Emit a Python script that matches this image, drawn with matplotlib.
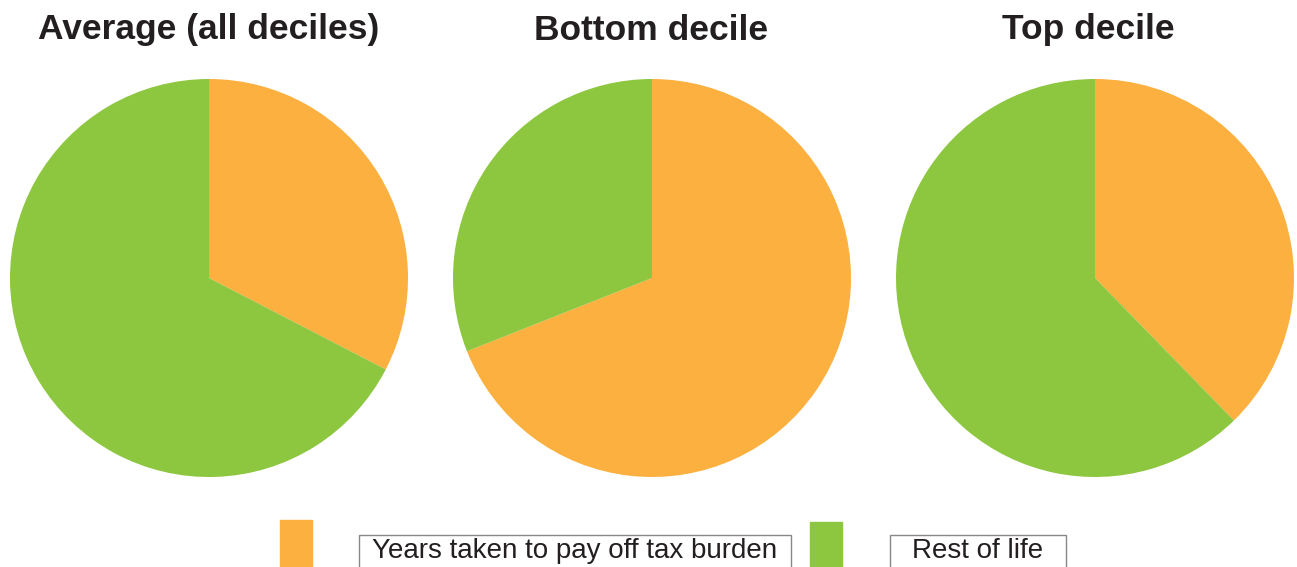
import matplotlib.pyplot as plt
from matplotlib.patches import Rectangle

# Données (part de la vie, en %)
titles = ['Average (all deciles)', 'Bottom decile', 'Top decile']
tax_years = [32.6, 69.0, 37.7]
rest_of_life = [100 - v for v in tax_years]
labels = ['Years taken to pay off tax burden', 'Rest of life']
colors = ['#FBB040', '#8DC63F']

W, H = 1297, 567
fig = plt.figure(figsize=(W / 100, H / 100), dpi=100)

centers_x = [209, 652, 1095]
title_x = [209, 651, 1088]
cy, r = 278, 199
for cx, tx, title, tax, rest in zip(centers_x, title_x, titles, tax_years, rest_of_life):
    ax = fig.add_axes([(cx - r) / W, (H - cy - r) / H, 2 * r / W, 2 * r / H])
    ax.pie([tax, rest], colors=colors, startangle=90, counterclock=False,
           radius=1, wedgeprops={'linewidth': 0})
    ax.set_xlim(-1, 1)
    ax.set_ylim(-1, 1)
    ax.set_aspect('equal')
    ax.axis('off')
    fig.text(tx / W, (H - 30) / H, title, ha='center', va='center',
             fontsize=25.5, fontweight='bold', family='Liberation Sans', color='#231F20')

# Légende dessinée à la main
squares = [(280, 520), (810, 522)]
boxes = [(359, 535, 432), (890, 535, 176)]
for (sx, sy), (bx, by, bw), lab, col in zip(squares, boxes, labels, colors):
    fig.patches.append(Rectangle((sx / W, (H - sy - 60) / H), 32 / W, 60 / H,
                                 transform=fig.transFigure, color=col))
    fig.patches.append(Rectangle((bx / W, (H - by - 60) / H), bw / W, 60 / H,
                                 transform=fig.transFigure, facecolor='white',
                                 edgecolor='#888888', linewidth=1))
    fig.text((bx + bw / 2) / W, (H - 551) / H, lab, ha='center', va='center',
             fontsize=20, family='Liberation Sans', color='#231F20')

fig.savefig('out.png', dpi=100)
